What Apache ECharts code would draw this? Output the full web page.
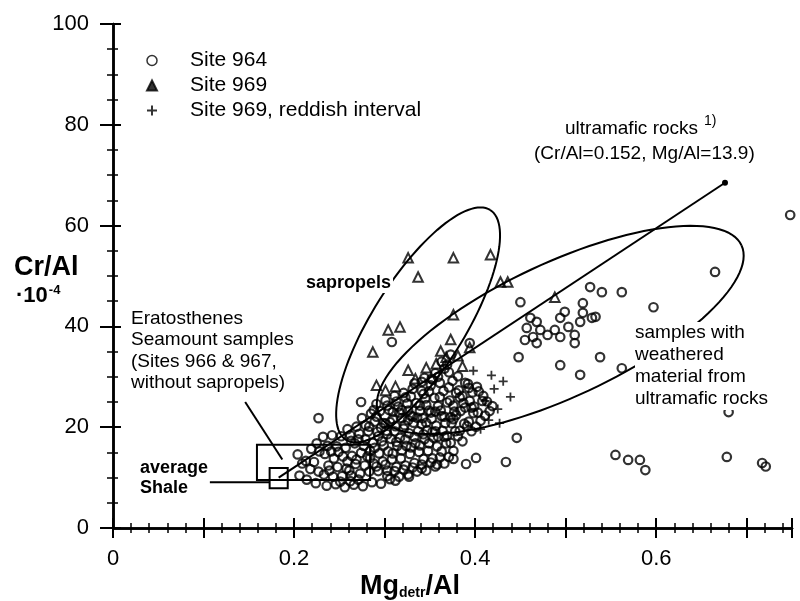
<!DOCTYPE html>
<html><head><meta charset="utf-8">
<script src="https://cdn.jsdelivr.net/npm/echarts@6/dist/echarts.min.js"></script>
<style>html,body{margin:0;padding:0;background:#fff}#c{width:800px;height:601px}</style>
</head><body><div id="c"></div>
<script>
// ---- data ----
const xTicks = [0, 0.2, 0.4, 0.6];
const yTicks = [0, 20, 40, 60, 80, 100];

// Site 964 (open circles): outliers + the main cluster
const site964 = [
  [0.748,62.1],[0.665,50.8],[0.597,43.8],[0.527,47.8],[0.540,46.8],[0.562,46.8],[0.519,44.6],[0.533,41.9],[0.450,44.8],
  [0.461,41.7],[0.468,40.9],[0.457,39.7],[0.472,39.3],[0.464,37.9],[0.480,38.3],[0.468,36.7],[0.455,37.3],[0.488,39.3],
  [0.494,37.9],[0.503,39.9],[0.510,38.3],[0.516,40.9],[0.510,36.7],[0.494,41.7],[0.529,41.7],[0.519,42.7],[0.499,42.9],
  [0.448,33.9],[0.494,32.3],[0.538,33.9],[0.516,30.4],[0.562,31.7],[0.394,36.7],[0.446,17.9],
  [0.376,13.7],[0.390,12.7],[0.401,13.9],[0.434,13.1],[0.555,14.5],[0.569,13.5],[0.582,13.5],[0.588,11.5],
  [0.678,14.1],[0.717,12.9],[0.721,12.2],[0.680,23.0],
  [0.308,36.9],[0.227,21.8],[0.274,25.0],[0.352,29.6],[0.288,23.4],
  // cluster
  [0.206,10.4],[0.209,12.8],[0.204,14.6],[0.214,9.6],[0.218,11.7],[0.213,13.3],[0.219,15.7],
  [0.224,8.9],[0.227,11.2],[0.222,13.1],[0.228,15.2],[0.225,16.8],[0.236,8.4],[0.233,10.6],[0.238,12.4],
  [0.234,14.7],[0.237,16.3],[0.232,18.1],[0.246,8.7],[0.243,10.2],[0.248,12.1],[0.244,13.8],[0.247,16.2],
  [0.242,18.4],[0.256,8.1],[0.253,10.3],[0.258,11.8],[0.254,14.2],[0.257,15.9],[0.252,18.2],[0.259,19.6],
  [0.266,8.6],[0.263,10.4],[0.268,12.7],[0.264,14.3],[0.267,16.8],[0.262,18.4],[0.269,20.1],[0.276,8.3],
  [0.273,10.8],[0.278,12.4],[0.274,14.9],[0.277,16.3],[0.272,18.7],[0.279,20.4],[0.275,21.8],[0.286,9.1],
  [0.283,11.2],[0.288,12.8],[0.284,15.3],[0.287,16.9],[0.282,19.2],[0.289,21.1],[0.285,22.7],[0.296,8.8],
  [0.293,11.3],[0.298,13.2],[0.294,14.8],[0.297,17.2],[0.292,19.1],[0.299,20.8],[0.295,23.2],[0.291,24.6],
  [0.306,9.7],[0.303,11.4],[0.308,13.6],[0.304,15.2],[0.307,17.7],[0.302,19.3],[0.309,21.6],[0.305,23.4],
  [0.301,25.3],[0.316,10.2],[0.313,12.1],[0.318,13.8],[0.314,16.3],[0.317,17.9],[0.312,20.2],[0.319,21.8],
  [0.315,24.1],[0.311,26.2],[0.326,10.6],[0.323,12.4],[0.328,14.7],[0.324,16.3],[0.327,18.8],[0.322,20.4],
  [0.329,22.3],[0.325,24.7],[0.321,26.8],[0.336,11.2],[0.333,12.9],[0.338,15.1],[0.334,16.8],[0.337,19.2],
  [0.332,20.9],[0.339,23.2],[0.335,24.8],[0.331,27.6],[0.346,11.4],[0.343,13.7],[0.348,15.3],[0.344,17.6],
  [0.347,19.4],[0.342,21.8],[0.349,23.3],[0.345,25.7],[0.341,27.2],[0.344,29.8],[0.356,12.2],[0.353,13.8],
  [0.358,16.2],[0.354,17.9],[0.357,20.3],[0.352,21.7],[0.359,24.2],[0.355,25.8],[0.351,28.3],[0.356,30.7],
  [0.366,12.8],[0.363,15.2],[0.368,16.8],[0.364,19.3],[0.367,20.8],[0.362,23.3],[0.369,24.9],[0.365,27.2],
  [0.361,28.8],[0.366,31.6],[0.376,15.3],[0.373,16.9],[0.378,19.2],[0.374,20.8],[0.377,23.1],[0.372,25.3],
  [0.379,26.8],[0.375,29.2],[0.371,30.9],[0.386,17.2],[0.383,19.3],[0.388,20.7],[0.384,23.2],[0.387,24.8],
  [0.382,27.3],[0.389,28.8],[0.396,19.2],[0.393,21.1],[0.398,22.8],[0.394,25.2],[0.397,26.9],[0.392,28.6],
  [0.406,21.3],[0.403,22.9],[0.408,25.2],[0.404,27.1],[0.416,23.2],[0.413,25.1],
  [0.284,13.9],[0.303,10.3],[0.327,10.2],[0.341,11.8],[0.358,12.6],[0.312,9.4],[0.262,9.3],
  [0.281,14.2],[0.279,17.6],[0.283,20.1],[0.291,12.2],[0.289,15.9],[0.293,18.2],[0.291,22.1],[0.301,12.6],
  [0.299,16.4],[0.303,18.6],[0.301,20.7],[0.303,24.3],[0.311,11.3],[0.309,14.8],[0.313,17.1],[0.311,19.2],
  [0.309,23.0],[0.313,25.1],[0.321,11.6],[0.319,15.4],[0.323,17.6],[0.321,19.7],[0.319,23.4],[0.323,25.9],
  [0.331,12.0],[0.329,16.0],[0.333,18.1],[0.331,22.1],[0.329,26.1],[0.333,28.7],[0.341,12.6],[0.339,16.4],
  [0.343,18.6],[0.341,20.6],[0.339,24.3],[0.343,26.6],[0.341,29.0],[0.351,13.0],[0.349,16.8],[0.353,19.1],
  [0.351,22.9],[0.349,27.1],[0.353,29.4],[0.361,14.0],[0.359,18.1],[0.363,22.2],[0.361,26.0],[0.359,30.0],
  [0.363,33.0],[0.371,14.1],[0.369,18.3],[0.373,22.0],[0.371,27.9],[0.369,32.4],[0.373,34.4],[0.381,18.2],
  [0.379,22.4],[0.383,25.9],[0.381,30.1],[0.391,20.2],[0.389,23.9],[0.393,27.8],[0.401,20.1],[0.399,24.1],
  [0.402,28.0],[0.411,22.3],[0.409,26.2],[0.419,24.2],[0.261,11.4],[0.259,13.2],[0.263,17.3],[0.271,9.6],
  [0.271,17.6],[0.251,9.2],[0.249,15.1],[0.239,11.4],[0.241,15.2],[0.269,13.6],
  [0.316,22.9],[0.326,21.4],[0.336,21.9],[0.346,24.4],[0.356,23.1],[0.366,22.1],[0.376,24.3],[0.386,26.2],
  [0.346,20.9],[0.356,19.2],[0.366,18.1],[0.376,21.6],[0.396,23.9],[0.306,21.0],[0.296,19.9],[0.326,23.3]
];

// Site 969 (triangles)
const site969 = [
  [0.326,53.6],[0.376,53.6],[0.417,54.2],[0.337,49.8],[0.376,42.3],[0.304,39.3],[0.317,39.9],[0.287,34.9],
  [0.326,31.3],[0.291,28.3],[0.301,27.3],[0.312,28.1],[0.428,48.8],[0.436,48.8],[0.488,45.8],[0.346,31.8],
  [0.357,32.6],[0.368,33.9],[0.362,35.1],[0.381,34.2],[0.394,35.8],[0.373,37.4],[0.334,29.6],[0.386,32.1]
];

// Site 969, reddish interval (plus signs)
const site969r = [
  [0.439,26.0],[0.425,23.6],[0.421,27.6],[0.415,21.4],[0.431,29.1],[0.411,25.2],[0.406,19.6],[0.398,31.2],
  [0.427,20.8],[0.418,30.3]
];

// mixing line: average shale -> ultramafic rocks
const mixLine = [[0.183,10.0],[0.676,68.5]];
// leader lines of the labels
const leaderErato = [[0.146,25.0],[0.187,13.6]];
const leaderShale = [[0.107,9.1],[0.173,9.1]];
// ellipses: centre x, centre y, semi-axis A (dx,dy), semi-axis B (dx,dy)
const ellipseSapropel = [0.337,40.3,0.0796,22.8,0.0431,-4.84];
const ellipseWeathered = [0.494,39.3,0.2002,16.79,-0.0313,12.04];
// boxes: x0,y0,x1,y1
const boxErato = [0.159,16.5,0.284,9.5];
const boxShale = [0.173,7.9,0.193,11.9];

// ---- chart ----
const FONT = '"Liberation Sans", Arial, sans-serif';
const chart = echarts.init(document.getElementById('c'), null, {renderer:'canvas'});
const plusPath = 'path://M4,0H6V4H10V6H6V10H4V6H0V4H4Z';

function ellipseItem(params, api){
  const cx=api.value(0), cy=api.value(1), ax=api.value(2), ay=api.value(3), bx=api.value(4), by=api.value(5);
  const pts=[];
  for(let i=0;i<=120;i++){
    const t=i/120*2*Math.PI;
    pts.push(api.coord([cx+ax*Math.cos(t)+bx*Math.sin(t), cy+ay*Math.cos(t)+by*Math.sin(t)]));
  }
  return {type:'polyline', shape:{points:pts}, style:{stroke:'#000', lineWidth:2, fill:null}};
}
function boxItem(params, api){
  const p0=api.coord([api.value(0),api.value(1)]), p1=api.coord([api.value(2),api.value(3)]);
  return {type:'rect', shape:{x:Math.min(p0[0],p1[0]), y:Math.min(p0[1],p1[1]), width:Math.abs(p1[0]-p0[0]), height:Math.abs(p1[1]-p0[1])},
    style:{stroke:'#000', lineWidth:2, fill:null}};
}

const axisCommon = {
  axisLine:{show:true, lineStyle:{color:'#000', width:2.5}},
  axisTick:{show:true, inside:false, lineStyle:{color:'#000', width:2}},
  minorTick:{show:true, lineStyle:{color:'#000', width:1.5}},
  splitLine:{show:false}, minorSplitLine:{show:false}
};

const option = {
  animation:false,
  backgroundColor:'#fff',
  grid:{left:113, right:8, top:24, bottom:73, containLabel:false},
  legend:{
    show:true, orient:'vertical', left:141, top:45, itemWidth:10, itemHeight:10, itemGap:4,
    textStyle:{fontFamily:FONT, fontSize:21, color:'#000', padding:[0,0,0,28], lineHeight:21},
    data:[
      {name:'Site 964', icon:'circle', itemStyle:{color:'#fff', borderColor:'#000', borderWidth:1.5}},
      {name:'Site 969', icon:'triangle', itemStyle:{color:'#000', borderColor:'#000'}},
      {name:'Site 969, reddish interval', icon:plusPath, itemStyle:{color:'#000'}}
    ]
  },
  xAxis:[
    Object.assign({type:'value', position:'bottom', min:0, max:0.75, interval:0.1,
      axisLabel:{show:true, color:'#000', fontFamily:FONT, fontSize:22, margin:20,
        formatter:v=>{const k=Math.round(v*10)/10; return xTicks.some(t=>Math.abs(t-k)<1e-6) ? (k===0?'0':String(k)) : '';}}},
      axisCommon, {axisTick:{show:true, length:10, lineStyle:{color:'#000', width:2}}, minorTick:{show:true, splitNumber:5, length:5, lineStyle:{color:'#000', width:1.5}}}),
    Object.assign({type:'value', position:'top', min:0, max:0.75, interval:0.1, axisLabel:{show:false}},
      axisCommon, {axisTick:{show:true, length:10, lineStyle:{color:'#000', width:2}}, minorTick:{show:true, splitNumber:5, length:5, lineStyle:{color:'#000', width:1.5}}})
  ],
  yAxis:[
    Object.assign({type:'value', position:'left', min:0, max:100, interval:20,
      axisLabel:{show:true, color:'#000', fontFamily:FONT, fontSize:22, margin:24,
        formatter:v=>yTicks.includes(v)?String(v):''}},
      axisCommon, {axisTick:{show:true, length:13, lineStyle:{color:'#000', width:2}}, minorTick:{show:true, splitNumber:4, length:6, lineStyle:{color:'#000', width:1.5}}}),
    Object.assign({type:'value', position:'right', min:0, max:100, interval:20, axisLabel:{show:false}},
      axisCommon, {axisTick:{show:true, length:8, lineStyle:{color:'#000', width:2}}, minorTick:{show:true, splitNumber:4, length:5, lineStyle:{color:'#000', width:1.5}}})
  ],
  series:[
    {name:'Site 964', type:'scatter', data:site964, symbol:'circle', symbolSize:8.5,
      itemStyle:{color:'rgba(0,0,0,0)', borderColor:'#000', borderWidth:2.2}, z:3},
    {name:'Site 969', type:'scatter', data:site969, symbol:'triangle', symbolSize:9.5,
      itemStyle:{color:'rgba(0,0,0,0)', borderColor:'#000', borderWidth:2}, z:3},
    {name:'Site 969, reddish interval', type:'scatter', data:site969r, symbol:plusPath, symbolSize:9,
      itemStyle:{color:'#000'}, z:3},
    {type:'line', data:mixLine, symbol:'none', lineStyle:{color:'#000', width:2}, silent:true, z:4,
      markPoint:{symbol:'circle', symbolSize:6, itemStyle:{color:'#000'}, label:{show:false}, data:[{coord:mixLine[1]}]}},
    {type:'line', data:leaderErato, symbol:'none', lineStyle:{color:'#000', width:2}, silent:true, z:4},
    {type:'line', data:leaderShale, symbol:'none', lineStyle:{color:'#000', width:2}, silent:true, z:4},
    {type:'custom', data:[ellipseSapropel, ellipseWeathered], renderItem:ellipseItem, silent:true, z:4,
      encode:{x:0, y:1}},
    {type:'custom', data:[boxErato, boxShale], renderItem:boxItem, silent:true, z:4, encode:{x:[0,2], y:[1,3]}}
  ],
  graphic:[
    {type:'text', left:14, top:254, z:100, style:{text:'Cr/Al', font:'bold 27px '+FONT, fill:'#000'}},
    {type:'text', left:16, top:284, z:100, style:{text:'{d|·}{n|10}{s|-4}', fill:'#000',
      rich:{d:{font:'bold 22px '+FONT}, n:{font:'bold 22px '+FONT}, s:{font:'bold 13px '+FONT, verticalAlign:'top', padding:[0,0,10,1]}}}},
    {type:'text', left:360, top:573, z:100, style:{text:'{m|Mg}{s|detr}{m|/Al}', fill:'#000',
      rich:{m:{font:'bold 27px '+FONT}, s:{font:'bold 14px '+FONT, padding:[14,0,0,0]}}}},
    {type:'text', left:565, top:119, z:100, style:{text:'ultramafic rocks', font:'19px '+FONT, fill:'#000', backgroundColor:'#fff'}},
    {type:'text', left:704, top:114, z:100, style:{text:'1)', font:'14px '+FONT, fill:'#000'}},
    {type:'text', left:534, top:144, z:100, style:{text:'(Cr/Al=0.152, Mg/Al=13.9)', font:'19px '+FONT, fill:'#000', backgroundColor:'#fff'}},
    {type:'text', left:304, top:273, z:100, style:{text:'sapropels', font:'bold 18px '+FONT, fill:'#000', backgroundColor:'#fff', padding:[1,2,1,2]}},
    {type:'text', left:131, top:308, z:100, style:{text:'Eratosthenes\nSeamount samples\n(Sites 966 & 967,\nwithout sapropels)', font:'19px '+FONT, lineHeight:21.5, fill:'#000'}},
    {type:'text', left:140, top:458, z:100, style:{text:'average\nShale', font:'bold 18px '+FONT, lineHeight:20, fill:'#000'}},
    {type:'text', left:635, top:322, z:100, style:{text:'samples with\nweathered\nmaterial from\nultramafic rocks', font:'19px '+FONT, lineHeight:22, fill:'#000', backgroundColor:'#fff'}}
  ]
};
chart.setOption(option);
</script>
</body></html>
